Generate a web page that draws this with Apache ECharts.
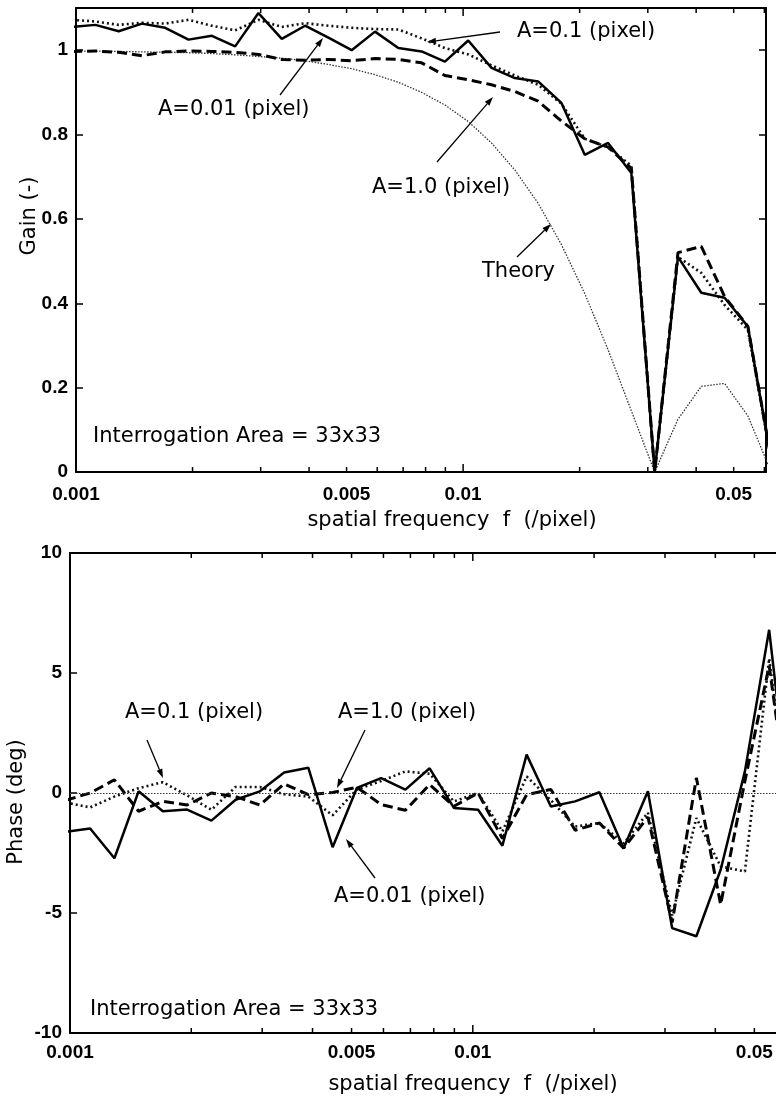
<!DOCTYPE html>
<html>
<head>
<meta charset="utf-8">
<script src="https://cdn.jsdelivr.net/npm/echarts@6/dist/echarts.min.js"></script>
<style>
  html, body { margin: 0; padding: 0; background: #fff; overflow: hidden; }
  /* the lower frame runs past the right edge of the page, as in the scan */
  #chart { width: 800px; height: 1104px; }
</style>
</head>
<body>
<div id="chart"></div>
<script>
// spatial frequency of each sample (/pixel)
var freq = [0.000977, 0.001122, 0.001289, 0.001480, 0.001700, 0.001953, 0.002244, 0.002577,
  0.002960, 0.003401, 0.003906, 0.004487, 0.005154, 0.005921, 0.006801, 0.007813,
  0.008974, 0.010309, 0.011842, 0.013602, 0.015625, 0.017948, 0.020617, 0.023683,
  0.027205, 0.031250, 0.035897, 0.041235, 0.047366, 0.054409, 0.062500];

// gain (-)
var gainA001 = [1.055, 1.060, 1.045, 1.063, 1.053, 1.025, 1.034, 1.009, 1.088, 1.027, 1.058,
  1.030, 1.000, 1.044, 1.005, 0.997, 0.973, 1.023, 0.958, 0.934, 0.926, 0.875, 0.752,
  0.780, 0.709, 0.000, 0.510, 0.425, 0.413, 0.345, 0.030];
var gainA01 = [1.072, 1.068, 1.060, 1.065, 1.063, 1.072, 1.058, 1.047, 1.072, 1.055, 1.064,
  1.058, 1.053, 1.050, 1.049, 1.028, 1.005, 0.990, 0.964, 0.940, 0.918, 0.873, 0.790,
  0.770, 0.726, 0.000, 0.510, 0.472, 0.396, 0.337, 0.030];
var gainA1 = [0.997, 0.998, 0.995, 0.987, 0.996, 0.998, 0.997, 0.995, 0.990, 0.978, 0.976,
  0.978, 0.975, 0.980, 0.978, 0.970, 0.940, 0.930, 0.918, 0.902, 0.879, 0.832, 0.790,
  0.770, 0.720, 0.000, 0.520, 0.535, 0.416, 0.345, 0.030];
var gainTheory = [0.998, 0.998, 0.997, 0.996, 0.995, 0.994, 0.992, 0.989, 0.985, 0.981, 0.975,
  0.966, 0.956, 0.942, 0.924, 0.900, 0.870, 0.831, 0.780, 0.716, 0.637, 0.539, 0.423,
  0.290, 0.145, 0.000, 0.125, 0.203, 0.210, 0.133, 0.000];

// phase (deg)
var phaseA001 = [-1.62, -1.48, -2.72, 0.07, -0.76, -0.69, -1.15, -0.28, 0.07, 0.85, 1.05,
  -2.26, 0.21, 0.62, 0.14, 1.03, -0.62, -0.70, -2.20, 1.60, -0.56, -0.35, 0.03, -2.30,
  0.07, -5.63, -5.97, -3.20, 0.90, 6.80, -2.00];
var phaseA01 = [-0.40, -0.60, -0.15, 0.20, 0.45, -0.10, -0.70, 0.25, 0.25, -0.05, -0.15,
  -0.93, 0.15, 0.50, 0.90, 0.80, -0.35, 0.00, -1.60, 0.69, -0.30, -1.40, -1.25, -2.10,
  -0.82, -5.10, -1.04, -3.06, -3.27, 5.60, -2.00];
var phaseA1 = [-0.30, 0.00, 0.55, -0.76, -0.35, -0.50, 0.00, -0.15, -0.50, 0.38, -0.07,
  0.02, 0.24, -0.48, -0.72, 0.35, -0.55, 0.00, -1.90, -0.07, 0.15, -1.55, -1.25, -2.30,
  -1.00, -5.40, 0.63, -4.65, 0.50, 5.30, -2.00];

var freqLabels = [0.001, 0.005, 0.01, 0.05];
var freqTicks = [0.001, 0.002, 0.003, 0.004, 0.005, 0.006, 0.007, 0.008, 0.009,
  0.01, 0.02, 0.03, 0.04, 0.05, 0.06];
var gainLabels = [0, 0.2, 0.4, 0.6, 0.8, 1];
var phaseLabels = [-10, -5, 0, 5, 10];

var chart = echarts.init(document.getElementById('chart'));

function pairs(ys) {
  return freq.map(function (f, i) { return [f, ys[i]]; });
}

var tickFont = { color: '#000', fontFamily: '"Liberation Sans", Arial', fontWeight: 'bold', fontSize: 19 };
var noteFont = '21px "DejaVu Sans"';

function freqAxis(grid, pos, labels, margin) {
  return {
    type: 'log', logBase: 10, gridIndex: grid, position: pos,
    min: 0.001, max: 0.0606,
    axisLine: { show: true, onZero: false, lineStyle: { color: '#000', width: 2 } },
    axisTick: { show: false },
    axisLabel: Object.assign({ show: labels, margin: margin, customValues: freqLabels,
      formatter: function (v) { return String(+(+v).toPrecision(3)); } }, tickFont),
    splitLine: { show: false }
  };
}

function valAxis(grid, pos, labels, min, max, step, marks) {
  return {
    type: 'value', gridIndex: grid, position: pos, min: min, max: max, interval: step,
    axisLine: { show: true, onZero: false, lineStyle: { color: '#000', width: 2 } },
    axisTick: { show: true, inside: true, length: 7,
      lineStyle: { color: '#000', width: 1.5 } },
    axisLabel: Object.assign({ show: labels, margin: 8, customValues: marks }, tickFont),
    splitLine: { show: false }
  };
}

// inward frequency ticks on the bottom and top frame of a grid
function freqTickSeries(xi, yi, yMin, yMax) {
  return {
    type: 'custom', xAxisIndex: xi, yAxisIndex: yi, silent: true, z: 6, clip: false,
    data: freqTicks.map(function (f) { return [f, yMin]; }),
    renderItem: function (params, api) {
      var f = api.value(0);
      var lo = api.coord([f, yMin]), hi = api.coord([f, yMax]);
      var len = (f === 0.01) ? 8 : 5;
      var st = { stroke: '#000', lineWidth: 1.5 };
      return { type: 'group', children: [
        { type: 'line', shape: { x1: lo[0], y1: lo[1], x2: lo[0], y2: lo[1] - len }, style: st },
        { type: 'line', shape: { x1: hi[0], y1: hi[1], x2: hi[0], y2: hi[1] + len }, style: st }
      ] };
    }
  };
}

function line(xi, yi, ys, style, z) {
  return {
    type: 'line', xAxisIndex: xi, yAxisIndex: yi, data: pairs(ys),
    symbol: 'none', clip: true, z: z, silent: true,
    lineStyle: style
  };
}

var solid = { color: '#000', width: 2.5, type: 'solid' };
var dotted = { color: '#111', width: 2.6, type: [2, 3] };
var dashed = { color: '#000', width: 3, type: [10, 5] };
var thin = { color: '#333', width: 1.3, type: [1.5, 1.5] };

function arrow(x1, y1, x2, y2) {
  var a = Math.atan2(y2 - y1, x2 - x1), L = 9, W = 3;
  var bx = x2 - L * Math.cos(a), by = y2 - L * Math.sin(a);
  return [
    { type: 'line', shape: { x1: x1, y1: y1, x2: bx, y2: by },
      style: { stroke: '#000', lineWidth: 1.3 } },
    { type: 'polygon', shape: { points: [[x2, y2],
        [bx - W * Math.sin(a), by + W * Math.cos(a)],
        [bx + W * Math.sin(a), by - W * Math.cos(a)]] },
      style: { fill: '#000' } }
  ];
}

function note(text, x, y, align) {
  return { type: 'text', x: x, y: y,
    style: { text: text, font: noteFont, fill: '#000', align: align || 'left', verticalAlign: 'middle' } };
}

function vnote(text, x, y) {
  return { type: 'text', x: x, y: y, rotation: Math.PI / 2,
    style: { text: text, font: noteFont, fill: '#000', align: 'center', verticalAlign: 'middle' } };
}

var graphics = [
  note('A=0.1 (pixel)', 517, 32),
  note('A=0.01 (pixel)', 158, 110),
  note('A=1.0 (pixel)', 372, 188),
  note('Theory', 482, 272),
  note('Interrogation Area = 33x33', 93, 437),
  note('spatial frequency  f  (/pixel)', 452, 521, 'center'),
  vnote('Gain (-)', 30, 216),
  note('A=0.1 (pixel)', 125, 713),
  note('A=1.0 (pixel)', 338, 713),
  note('A=0.01 (pixel)', 334, 897),
  note('Interrogation Area = 33x33', 90, 1010),
  note('spatial frequency  f  (/pixel)', 473, 1085, 'center'),
  vnote('Phase (deg)', 17, 802)
].concat(
  arrow(500, 32, 427, 42),
  arrow(280, 95, 323, 38),
  arrow(437, 162, 493, 97),
  arrow(517, 257, 551, 224),
  arrow(147, 740, 163, 778),
  arrow(365, 730, 337, 788),
  arrow(375, 878, 346, 839)
);

var option = {
  animation: false,
  backgroundColor: '#fff',
  grid: [
    { left: 76, top: 8, width: 690, height: 464 },
    { left: 70, top: 553, width: 718, height: 480 }
  ],
  xAxis: [
    freqAxis(0, 'bottom', true, 13),
    freqAxis(0, 'top', false, 0),
    freqAxis(1, 'bottom', true, 10),
    freqAxis(1, 'top', false, 0)
  ],
  yAxis: [
    valAxis(0, 'left', true, 0, 1.1, 0.2, gainLabels),
    valAxis(0, 'right', false, 0, 1.1, 0.2, gainLabels),
    valAxis(1, 'left', true, -10, 10, 5, phaseLabels),
    valAxis(1, 'right', false, -10, 10, 5, phaseLabels)
  ],
  series: [
    freqTickSeries(0, 0, 0, 1.1),
    freqTickSeries(2, 2, -10, 10),
    line(0, 0, gainTheory, thin, 2),
    line(0, 0, gainA1, dashed, 3),
    line(0, 0, gainA01, dotted, 4),
    line(0, 0, gainA001, solid, 5),
    Object.assign(line(2, 2, phaseA1, dashed, 3), {
      markLine: { silent: true, symbol: 'none', label: { show: false },
        lineStyle: { color: '#333', width: 1, type: [1.5, 1.5] },
        data: [{ yAxis: 0 }] }
    }),
    line(2, 2, phaseA01, dotted, 4),
    line(2, 2, phaseA001, solid, 5)
  ],
  graphic: graphics
};

chart.setOption(option);
</script>
</body>
</html>
